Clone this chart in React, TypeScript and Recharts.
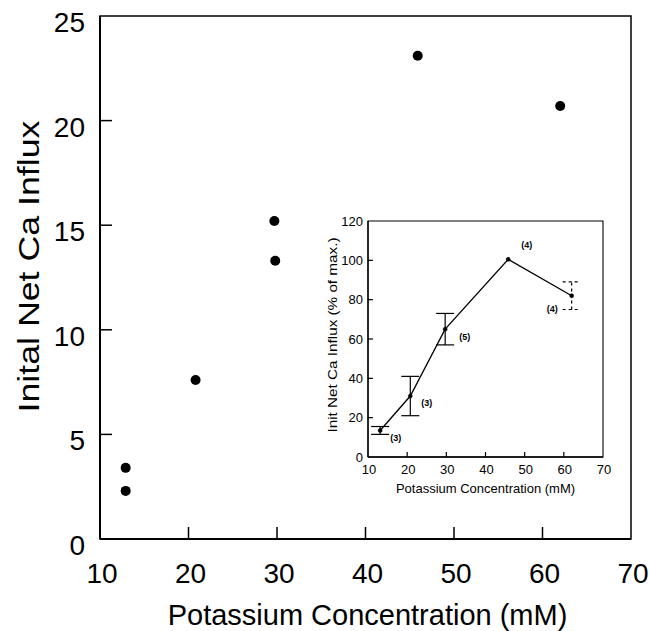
import React from 'react';
import {
  ScatterChart, Scatter, ComposedChart, Line, XAxis, YAxis, ErrorBar,
  ReferenceArea, LabelList,
} from 'recharts';

// ---------- main chart data ----------
const mainK = [12.9, 12.9, 20.8, 29.7, 29.8, 45.9, 62.0];
const mainInflux = [3.4, 2.3, 7.6, 15.2, 13.3, 23.1, 20.7];
const mainXTicks = [10, 20, 30, 40, 50, 60, 70];
const mainYTicks = [0, 5, 10, 15, 20, 25];

// ---------- inset data ----------
const insetK = [13.1, 20.8, 29.7, 45.8, 62.0];
const insetPct = [13.5, 31, 65, 100.5, 82];
const insetErrSolid = [2, 10, 8, null, null];
const insetErrDashed = [null, null, null, null, 7];
const insetNotes = ['(3)', '(3)', '(5)', '(4)', '(4)'];
const insetXTicks = [10, 20, 30, 40, 50, 60, 70];
const insetYTicks = [0, 20, 40, 60, 80, 100, 120];

// layout offsets for inset "(n)" notes (dx, dy from the point)
const noteOffsets: [number, number][] = [[10, 11], [11, 10], [14, 11], [13, -11], [-25, 16]];

const FONT = 'Liberation Sans, Arial, Helvetica, sans-serif';

const mainData = mainK.map((k, i) => ({ k, v: mainInflux[i] }));
const insetData = insetK.map((k, i) => ({
  k,
  v: insetPct[i],
  es: insetErrSolid[i],
  ed: insetErrDashed[i],
  note: insetNotes[i],
}));

const MainYTick = (props: any) => {
  const { x, y, payload } = props;
  const v = payload.value;
  const inner = v !== 0 && v !== 25;
  return (
    <g>
      {inner && <line x1={x} y1={y} x2={x + 12} y2={y} stroke="#000" strokeWidth={1.5} />}
      <text x={x - 15} y={y + 16} textAnchor="end" fontSize={28} fontFamily={FONT} fill="#000">
        {v}
      </text>
    </g>
  );
};

const MainXTick = (props: any) => {
  const { x, y, payload } = props;
  const v = payload.value;
  const inner = v !== 10 && v !== 70;
  return (
    <g>
      {inner && <line x1={x} y1={y} x2={x} y2={y - 12} stroke="#000" strokeWidth={1.5} />}
      <text x={x + 2} y={y + 44} textAnchor="middle" fontSize={28} fontFamily={FONT} fill="#000">
        {v}
      </text>
    </g>
  );
};

const InsetYTick = (props: any) => {
  const { x, y, payload } = props;
  const v = payload.value;
  const inner = v !== 0 && v !== 120;
  return (
    <g>
      {inner && <line x1={x} y1={y} x2={x + 5} y2={y} stroke="#000" strokeWidth={1.2} />}
      <text x={x - 5} y={y + 4.5} textAnchor="end" fontSize={13} fontFamily={FONT} fill="#000">
        {v}
      </text>
    </g>
  );
};

const InsetXTick = (props: any) => {
  const { x, y, payload } = props;
  const v = payload.value;
  const inner = v !== 10 && v !== 70;
  return (
    <g>
      {inner && <line x1={x} y1={y} x2={x} y2={y - 5} stroke="#000" strokeWidth={1.2} />}
      <text x={x + 1} y={y + 17} textAnchor="middle" fontSize={13} fontFamily={FONT} fill="#000">
        {v}
      </text>
    </g>
  );
};

const mainYLabel = (p: any) => {
  const vb = p.viewBox;
  const cy = vb.y + vb.height / 2 - 11;
  const bx = 39;
  return (
    <text
      x={bx}
      y={cy}
      transform={`rotate(-90, ${bx}, ${cy})`}
      textAnchor="middle"
      fontSize={30}
      textLength={292}
      lengthAdjust="spacingAndGlyphs"
      fontFamily={FONT}
      fill="#000"
    >
      Inital Net Ca Influx
    </text>
  );
};

const mainXLabel = (p: any) => {
  const vb = p.viewBox;
  const cx = vb.x + vb.width / 2 + 2;
  return (
    <text x={cx} y={vb.y + 86} textAnchor="middle" fontSize={29} fontFamily={FONT} fill="#000">
      Potassium Concentration (mM)
    </text>
  );
};

const insetYLabel = (p: any) => {
  const vb = p.viewBox;
  const cy = vb.y + vb.height / 2 - 4;
  const bx = 37;
  return (
    <text
      x={bx}
      y={cy}
      transform={`rotate(-90, ${bx}, ${cy})`}
      textAnchor="middle"
      fontSize={12.5}
      textLength={195}
      lengthAdjust="spacingAndGlyphs"
      fontFamily={FONT}
      fill="#000"
    >
      Init Net Ca Influx (% of max.)
    </text>
  );
};

const insetXLabel = (p: any) => {
  const vb = p.viewBox;
  const cx = vb.x + vb.width / 2;
  return (
    <text x={cx} y={vb.y + 36} textAnchor="middle" fontSize={13} fontFamily={FONT} fill="#000">
      Potassium Concentration (mM)
    </text>
  );
};

const renderNote = (p: any) => {
  const { x, y, index, value } = p;
  const off = noteOffsets[index] || [0, 0];
  return (
    <text
      x={x + off[0]}
      y={y + off[1]}
      fontSize={9}
      fontWeight="bold"
      fontFamily={FONT}
      fill="#000"
    >
      {value}
    </text>
  );
};

export default function App() {
  return (
    <div style={{ position: 'absolute', left: 0, top: 0, width: 649, height: 631, background: '#fff' }}>
      <div style={{ position: 'absolute', left: 0, top: 0 }}>
        <ScatterChart width={649} height={631} margin={{ top: 16, right: 18, bottom: 0, left: 0 }}>
          <XAxis
            type="number"
            dataKey="k"
            domain={[10, 70]}
            ticks={mainXTicks}
            height={92}
            tickSize={0}
            tickLine={false}
            tickMargin={0}
            tick={<MainXTick />}
            axisLine={{ stroke: '#000', strokeWidth: 2 }}
            label={mainXLabel}
            interval={0}
            allowDataOverflow
          />
          <YAxis
            type="number"
            dataKey="v"
            domain={[0, 25]}
            ticks={mainYTicks}
            width={100}
            tickSize={0}
            tickLine={false}
            tickMargin={0}
            tick={<MainYTick />}
            axisLine={{ stroke: '#000', strokeWidth: 2 }}
            label={mainYLabel}
            interval={0}
            allowDataOverflow
          />
          <ReferenceArea x1={10} x2={70} y1={0} y2={25} fill="none" stroke="#000" strokeWidth={1.5} />
          <Scatter data={mainData} fill="#000" isAnimationActive={false} shape={(p: any) => (
            <circle cx={p.cx} cy={p.cy} r={5} fill="#000" />
          )} />
        </ScatterChart>
      </div>
      <div style={{ position: 'absolute', left: 300, top: 200 }}>
        <ComposedChart width={320} height={300} data={insetData} margin={{ top: 21, right: 17, bottom: 0, left: 0 }}>
          <XAxis
            type="number"
            dataKey="k"
            domain={[10, 70]}
            ticks={insetXTicks}
            height={43}
            tickSize={0}
            tickLine={false}
            tickMargin={0}
            tick={<InsetXTick />}
            axisLine={{ stroke: '#000', strokeWidth: 1.3 }}
            label={insetXLabel}
            interval={0}
            allowDataOverflow
          />
          <YAxis
            type="number"
            domain={[0, 120]}
            ticks={insetYTicks}
            width={68}
            tickSize={0}
            tickLine={false}
            tickMargin={0}
            tick={<InsetYTick />}
            axisLine={{ stroke: '#000', strokeWidth: 1.3 }}
            label={insetYLabel}
            interval={0}
            allowDataOverflow
          />
          <ReferenceArea x1={10} x2={70} y1={0} y2={120} fill="none" stroke="#000" strokeWidth={1.1} />
          <Line
            dataKey="v"
            stroke="#000"
            strokeWidth={1.3}
            dot={{ r: 2, fill: '#000', stroke: '#000', strokeWidth: 0.5 }}
            isAnimationActive={false}
          >
            <ErrorBar dataKey="es" direction="y" width={9} stroke="#000" strokeWidth={1.2} />
            <ErrorBar dataKey="ed" direction="y" width={9} stroke="#000" strokeWidth={1.2} strokeDasharray="3 3" />
            <LabelList dataKey="note" content={renderNote} />
          </Line>
        </ComposedChart>
      </div>
    </div>
  );
}
